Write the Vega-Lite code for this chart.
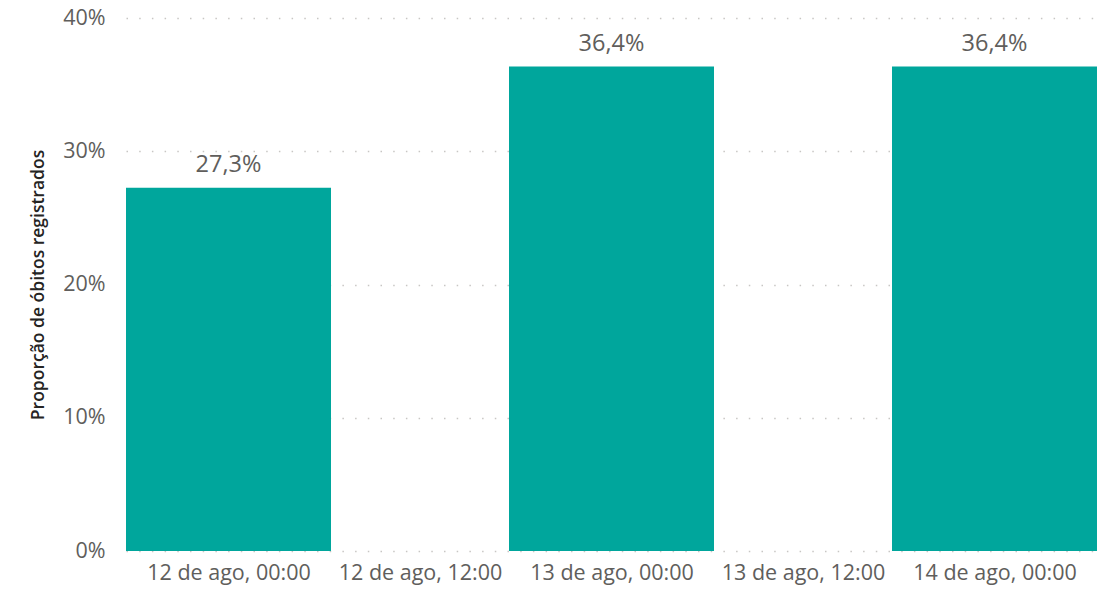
{
  "$schema": "https://vega.github.io/schema/vega-lite/v6.json",
  "width": 971,
  "height": 533,
  "autosize": "none",
  "padding": {"left": 126, "top": 18, "right": 10, "bottom": 38},
  "config": {
    "locale": {"number": {"decimal": ",", "thousands": ".", "grouping": [3], "currency": ["R$", ""]}},
    "view": {"stroke": null},
    "font": "Open Sans"
  },
  "data": {
    "values": [
      {"data": "2020-08-12T00:00:00", "prop": 0.2727},
      {"data": "2020-08-13T00:00:00", "prop": 0.3636},
      {"data": "2020-08-14T00:00:00", "prop": 0.3636}
    ]
  },
  "encoding": {
    "x": {
      "field": "data",
      "type": "temporal",
      "scale": {
        "padding": 0,
        "nice": false,
        "domain": [
          {"year": 2020, "month": 8, "date": 11, "hours": 17, "minutes": 34, "seconds": 37},
          {"year": 2020, "month": 8, "date": 14, "hours": 6, "minutes": 25, "seconds": 23}
        ]
      },
      "axis": {
        "title": null,
        "values": [
          {"year": 2020, "month": 8, "date": 12, "hours": 0},
          {"year": 2020, "month": 8, "date": 12, "hours": 12},
          {"year": 2020, "month": 8, "date": 13, "hours": 0},
          {"year": 2020, "month": 8, "date": 13, "hours": 12},
          {"year": 2020, "month": 8, "date": 14, "hours": 0}
        ],
        "format": "%d de ago, %H:%M",
        "labelFontSize": 21.5,
        "labelColor": "#605E5C",
        "labelPadding": 11,
        "labelFlush": false,
        "labelOverlap": false,
        "domain": false,
        "ticks": false,
        "grid": false
      }
    },
    "y": {
      "field": "prop",
      "type": "quantitative",
      "scale": {"domain": [0, 0.4]},
      "axis": {
        "title": "Proporção de óbitos registrados",
        "titleFontSize": 17.5,
        "titleFontWeight": 600,
        "titleColor": "#252423",
        "titlePadding": 15,
        "values": [0, 0.1, 0.2, 0.3, 0.4],
        "format": ".0%",
        "labelFontSize": 21.5,
        "labelColor": "#605E5C",
        "labelPadding": 21,
        "domain": false,
        "ticks": false,
        "grid": true,
        "gridColor": "#C8C6C4",
        "gridWidth": 1.5,
        "gridDash": [1.5, 11.2]
      }
    }
  },
  "layer": [
    {"mark": {"type": "bar", "size": 205, "color": "#00A69C"}},
    {
      "mark": {"type": "text", "baseline": "alphabetic", "dy": -16, "fontSize": 23.5, "color": "#605E5C"},
      "encoding": {"text": {"field": "prop", "type": "quantitative", "format": ".1%"}}
    }
  ]
}
